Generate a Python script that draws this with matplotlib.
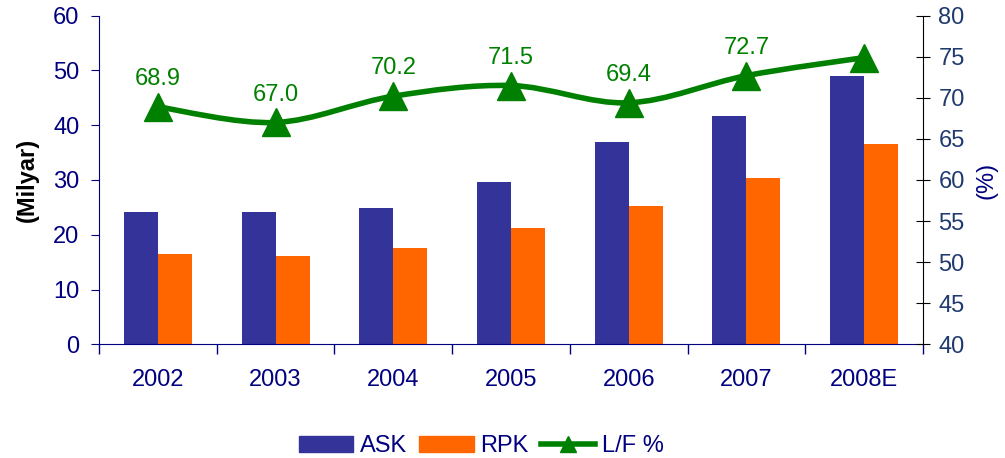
import numpy as np
import matplotlib
matplotlib.use('Agg')
import matplotlib.pyplot as plt
from matplotlib.path import Path
from matplotlib.patches import PathPatch
from matplotlib.lines import Line2D
from matplotlib.patches import Patch

plt.rcParams['font.family'] = ['Liberation Sans', 'DejaVu Sans']

# data
years = ['2002', '2003', '2004', '2005', '2006', '2007', '2008E']
ask = [24.2, 24.2, 24.9, 29.6, 37.0, 41.7, 49.0]
rpk = [16.5, 16.1, 17.6, 21.2, 25.3, 30.4, 36.6]
lf = [68.9, 67.0, 70.2, 71.5, 69.4, 72.7, 74.9]
lf_labels = ['68.9', '67.0', '70.2', '71.5', '69.4', '72.7', '']

navy = '#000080'
blue = '#333399'
orange = '#FF6600'
green = '#008000'
fs = 17

fig = plt.figure(figsize=(10.05, 4.58), dpi=100)
ax = fig.add_axes([0.0985, 0.2483, 0.8199, 0.7174])
ax2 = ax.twinx()

x = np.arange(len(years))
w = 0.289
ax.bar(x - w / 2, ask, w, color=blue, zorder=2)
ax.bar(x + w / 2, rpk, w, color=orange, zorder=2)

ax.set_xlim(-0.5, len(years) - 0.5)
ax.set_ylim(0, 60)
ax.set_yticks(range(0, 61, 10))
ax.set_xticks(x)
ax.set_xticklabels(years)
ax.set_xticks(np.arange(-0.5, len(years), 1), minor=True)
ax.tick_params(axis='x', which='major', length=0, pad=18, labelsize=fs, labelcolor=navy)
ax.tick_params(axis='x', which='minor', length=7, color=navy, width=1)
ax.tick_params(axis='y', length=6, color=navy, labelcolor=navy, labelsize=fs, pad=8)
for s in ['top', 'right']:
    ax.spines[s].set_visible(False)
for s in ['left', 'bottom']:
    ax.spines[s].set_color(navy)
ax.set_ylabel('(Milyar)', fontsize=fs, fontweight='bold', labelpad=10)

# smoothed L/F line (bezier through the points, like Excel)
verts = [(x[0], lf[0])]
codes = [Path.MOVETO]
n = len(lf)
for i in range(n - 1):
    p0 = (x[max(i - 1, 0)], lf[max(i - 1, 0)])
    p1 = (x[i], lf[i])
    p2 = (x[i + 1], lf[i + 1])
    p3 = (x[min(i + 2, n - 1)], lf[min(i + 2, n - 1)])
    c1 = (p1[0] + (p2[0] - p0[0]) / 6, p1[1] + (p2[1] - p0[1]) / 6)
    c2 = (p2[0] - (p3[0] - p1[0]) / 6, p2[1] - (p3[1] - p1[1]) / 6)
    verts += [c1, c2, p2]
    codes += [Path.CURVE4] * 3
ax2.add_patch(PathPatch(Path(verts, codes), fill=False, edgecolor=green, lw=4, zorder=3))
ax2.plot(x, lf, linestyle='none', marker='^', markersize=20, color=green, zorder=4)
for xi, yi, t in zip(x, lf, lf_labels):
    if t:
        ax2.annotate(t, (xi, yi), xytext=(0, 20), textcoords='offset points',
                     ha='center', va='center', fontsize=fs, color=green)

ax2.set_ylim(40, 80)
ax2.set_yticks(range(40, 81, 5))
ax2.tick_params(axis='y', direction='inout', length=10, color='black', labelcolor='#1F3A6E', labelsize=fs, pad=6)
for s in ['top', 'left', 'bottom']:
    ax2.spines[s].set_visible(False)
ax2.spines['right'].set_color('black')
ax2.set_ylabel('(%)', fontsize=fs, color=navy, labelpad=8)

handles = [Patch(color=blue), Patch(color=orange),
           Line2D([], [], color=green, lw=4, marker='^', markersize=12)]
fig.legend(handles, ['ASK', 'RPK', 'L/F %'], loc='center', bbox_to_anchor=(0.479, 0.026),
           ncol=3, frameon=False, fontsize=fs, labelcolor=navy, handlelength=2.3,
           handleheight=0.7, handletextpad=0.3, columnspacing=0.5)

fig.savefig('out.png', dpi=100)
